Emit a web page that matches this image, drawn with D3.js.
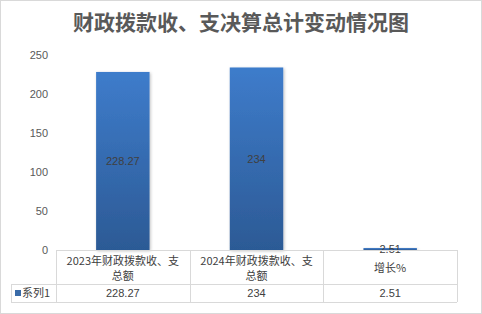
<!DOCTYPE html>
<html>
<head>
<meta charset="utf-8">
<script src="https://cdn.jsdelivr.net/npm/d3@7"></script>
<style>
  body { margin: 0; background: #fff; }
  text { font-family: "Noto Sans CJK SC", "Liberation Sans", sans-serif; }
</style>
</head>
<body>
<div id="chart"></div>
<script>
// data
var categories = ["2023年财政拨款收、支总额", "2024年财政拨款收、支总额", "增长%"];
var catLines = [["2023年财政拨款收、支", "总额"], ["2024年财政拨款收、支", "总额"], ["增长%"]];
var values = [228.27, 234, 2.51];
var valueLabels = ["228.27", "234", "2.51"];
var seriesName = "系列1";
var yTicks = [0, 50, 100, 150, 200, 250];

var W = 482, H = 314;
var plot = { left: 56, right: 457, top: 55, bottom: 250 };

var svg = d3.select("#chart").append("svg")
  .attr("width", W).attr("height", H);

// outer border
svg.append("rect")
  .attr("x", 0.5).attr("y", 0.5)
  .attr("width", W - 1).attr("height", H - 1)
  .style("fill", "#fff").style("stroke", "#d9d9d9");

// title
svg.append("text")
  .attr("x", W / 2).attr("y", 30)
  .attr("text-anchor", "middle")
  .style("font-size", "21px")
  .style("font-weight", "bold")
  .style("fill", "#595959")
  .text("财政拨款收、支决算总计变动情况图");

var x = d3.scaleBand().domain(categories).range([plot.left, plot.right]).paddingInner(0.6).paddingOuter(0.3);
var y = d3.scaleLinear().domain([0, 250]).range([plot.bottom, plot.top]);
var xCol = d3.scaleBand().domain(categories).range([plot.left, plot.right]);

// gradient
var defs = svg.append("defs");
var grad = defs.append("linearGradient").attr("id", "barGrad")
  .attr("x1", 0).attr("y1", 0).attr("x2", 0).attr("y2", 1);
grad.append("stop").attr("offset", "0%").attr("stop-color", "#3e7ccb");
grad.append("stop").attr("offset", "100%").attr("stop-color", "#2c5a95");
var shadow = defs.append("filter").attr("id", "shadow")
  .attr("x", "-20%").attr("y", "-20%").attr("width", "140%").attr("height", "140%");
shadow.append("feDropShadow").attr("dx", 1).attr("dy", 1).attr("stdDeviation", 1.5)
  .attr("flood-color", "#000").attr("flood-opacity", 0.25);

// y axis labels
var yAxis = svg.append("g")
  .attr("transform", "translate(" + (plot.left - 8) + ",0)")
  .call(d3.axisLeft(y).tickValues(yTicks).tickSize(0).tickPadding(0));
yAxis.select(".domain").remove();
yAxis.selectAll("text")
  .style("font-size", "11px")
  .style("fill", "#595959")
  .style("font-family", "\"Liberation Sans\", sans-serif");

// bars
svg.selectAll(".bar")
  .data(values)
  .enter().append("rect")
  .attr("class", "bar")
  .attr("x", function(d, i) { return x(categories[i]); })
  .attr("width", x.bandwidth())
  .attr("y", function(d) { return y(d); })
  .attr("height", function(d) { return y(0) - y(d); })
  .style("fill", "url(#barGrad)")
  .attr("filter", "url(#shadow)");

// bar value labels
svg.selectAll(".val")
  .data(values)
  .enter().append("text")
  .attr("class", "val")
  .attr("x", function(d, i) { return x(categories[i]) + x.bandwidth() / 2; })
  .attr("y", function(d) { return (y(d) + y(0)) / 2; })
  .attr("dy", "0.35em")
  .attr("text-anchor", "middle")
  .style("font-size", "11px")
  .style("fill", "#404040")
  .style("font-family", "\"Liberation Sans\", sans-serif")
  .text(function(d, i) { return valueLabels[i]; });

// data table
var rowTop = plot.bottom, rowMid = 284, rowBot = 302, legLeft = 11;
var lineColor = "#d9d9d9";
var tbl = svg.append("g").style("stroke", lineColor).style("stroke-width", 1).style("fill", "none");
tbl.append("line").attr("x1", plot.left).attr("x2", plot.right).attr("y1", rowTop + 0.5).attr("y2", rowTop + 0.5);
tbl.append("line").attr("x1", legLeft).attr("x2", plot.right).attr("y1", rowMid + 0.5).attr("y2", rowMid + 0.5);
tbl.append("line").attr("x1", legLeft).attr("x2", plot.right).attr("y1", rowBot + 0.5).attr("y2", rowBot + 0.5);
tbl.append("line").attr("x1", legLeft + 0.5).attr("x2", legLeft + 0.5).attr("y1", rowMid).attr("y2", rowBot);
categories.forEach(function(c) {
  var xx = Math.round(xCol(c)) + 0.5;
  tbl.append("line").attr("x1", xx).attr("x2", xx).attr("y1", rowTop).attr("y2", rowBot);
});
tbl.append("line").attr("x1", plot.right + 0.5).attr("x2", plot.right + 0.5).attr("y1", rowTop).attr("y2", rowBot);

// category text
categories.forEach(function(c, i) {
  var lines = catLines[i];
  var cx = xCol(c) + xCol.bandwidth() / 2;
  var startY = lines.length === 1 ? 272 : 265;
  lines.forEach(function(l, j) {
    svg.append("text")
      .attr("x", cx).attr("y", startY + j * 15)
      .attr("text-anchor", "middle")
      .style("font-size", "11px")
      .style("fill", "#404040")
      .text(l);
  });
  svg.append("text")
    .attr("x", cx).attr("y", 297)
    .attr("text-anchor", "middle")
    .style("font-size", "11px")
    .style("fill", "#404040")
    .style("font-family", "\"Liberation Sans\", sans-serif")
    .text(valueLabels[i]);
});

// legend key
svg.append("rect")
  .attr("x", 15).attr("y", 290).attr("width", 6).attr("height", 6)
  .style("fill", "#3a6ba8");
svg.append("text")
  .attr("x", 22).attr("y", 297)
  .style("font-size", "11px")
  .style("fill", "#404040")
  .text(seriesName);
</script>
</body>
</html>
